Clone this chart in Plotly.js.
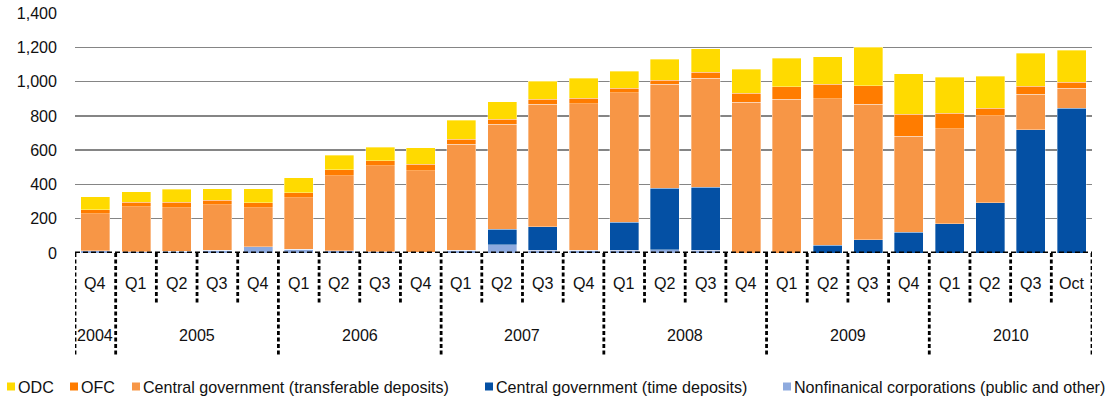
<!DOCTYPE html>
<html>
<head>
<meta charset="utf-8">
<script src="https://cdn.plot.ly/plotly-3.0.1.min.js"></script>
<style>html,body{margin:0;padding:0;background:#fff;}#chart{width:1113px;height:401px;}</style>
</head>
<body>
<div id="chart"></div>
<script>
// ---- data ----
var years    = ['2004','2005','2005','2005','2005','2006','2006','2006','2006','2007','2007','2007','2007','2008','2008','2008','2008','2009','2009','2009','2009','2010','2010','2010','2010'];
var quarters = ['Q4','Q1','Q2','Q3','Q4','Q1','Q2','Q3','Q4','Q1','Q2','Q3','Q4','Q1','Q2','Q3','Q4','Q1','Q2','Q3','Q4','Q1','Q2','Q3','Oct'];

var nfc     = [12, 7, 9, 17, 37, 21, 12, 6, 5, 16, 47, 17, 17, 15, 19, 17, 0, 0, 0, 0, 0, 0, 0, 0, 0];
var cgTime  = [0, 0, 0, 0, 0, 0, 0, 0, 0, 0, 93, 135, 0, 164, 359, 367, 0, 0, 45, 76, 121, 171, 292, 718, 845];
var cgTrans = [218, 264, 256, 265, 228, 302, 440, 504, 476, 617, 610, 716, 855, 757, 605, 634, 878, 896, 856, 792, 560, 555, 510, 207, 115];
var ofc     = [23, 25, 31, 26, 29, 29, 35, 29, 37, 31, 31, 30, 31, 26, 26, 37, 55, 74, 82, 109, 127, 88, 41, 47, 37];
var odc     = [76, 60, 76, 68, 82, 86, 82, 78, 97, 109, 101, 105, 117, 97, 120, 137, 138, 165, 162, 224, 238, 212, 187, 192, 185];

var seriesNames = ['Nonfinanical corporations (public and other)', 'Central government (time deposits)', 'Central government (transferable deposits)', 'OFC', 'ODC'];
var seriesData  = [nfc, cgTime, cgTrans, ofc, odc];
var seriesColors = ['#8EAADE', '#0450A4', '#F79646', '#FF7C00', '#FFDA00'];
var legendOrder = [4, 3, 2, 1, 0];

// ---- layout geometry ----
var W = 1113, H = 401, L = 75, R = 21, T = 13, B = 148;
var PW = W - L - R, PH = H - T - B;
function px(x){ return (x - L) / PW; }
function py(y){ return (H - B - y) / PH; }
var legendX = [7, 70, 132, 485, 783];
var FONT = 'Liberation Sans, Arial, sans-serif';
var FS = 16.1;

var xcats = years.map(function(y, i){ return y + ' ' + quarters[i]; });

var traces = seriesData.map(function(vals, k){
  return {
    type: 'bar', x: xcats, y: vals, name: seriesNames[k],
    marker: {color: seriesColors[k], line: {color: 'rgba(255,255,255,0.5)', width: 0.7}},
    hoverinfo: 'x+y+name'
  };
});

var shapes = [];
var annotations = [];

// baseline dashed
shapes.push({type: 'line', xref: 'x', yref: 'y', x0: -0.5, x1: xcats.length - 0.5, y0: 0, y1: 0,
  line: {color: '#000', width: 2.8, dash: '5px,3px'}});

// separators
for (var i = 0; i <= xcats.length; i++) {
  var isYear = (i === 0 || i === xcats.length || years[i] !== years[i-1]);
  shapes.push({type: 'line', xref: 'x', yref: 'paper', x0: i - 0.5, x1: i - 0.5,
    y0: 0, y1: py(isYear ? 356 : 303), line: {color: '#000', width: 2.8, dash: '4px,2.5px'}});
}

// quarter labels
for (var j = 0; j < xcats.length; j++) {
  annotations.push({xref: 'x', yref: 'paper', x: j, y: py(283), text: quarters[j], showarrow: false,
    xanchor: 'center', yanchor: 'middle', font: {family: FONT, size: FS, color: '#111'}});
}
// year labels
var start = 0;
for (var k = 1; k <= years.length; k++) {
  if (k === years.length || years[k] !== years[start]) {
    annotations.push({xref: 'x', yref: 'paper', x: (start + k - 1) / 2, y: py(335), text: years[start], showarrow: false,
      xanchor: 'center', yanchor: 'middle', font: {family: FONT, size: FS, color: '#111'}});
    start = k;
  }
}
// legend
legendOrder.forEach(function(s, n){
  var lx = legendX[n];
  shapes.push({type: 'rect', xref: 'paper', yref: 'paper', x0: px(lx), x1: px(lx + 8), y0: py(390.5), y1: py(382.5),
    fillcolor: seriesColors[s], line: {width: 0}});
  annotations.push({xref: 'paper', yref: 'paper', x: px(lx + 9), y: py(386.5), text: seriesNames[s], showarrow: false,
    xanchor: 'left', yanchor: 'middle', font: {family: FONT, size: FS, color: '#111'}});
});

var layout = {
  width: W, height: H,
  margin: {l: L, r: R, t: T, b: B, pad: 0},
  barmode: 'stack', bargap: 0.287,
  showlegend: false,
  paper_bgcolor: '#fff', plot_bgcolor: '#fff',
  font: {family: FONT, size: FS, color: '#111'},
  xaxis: {type: 'category', showticklabels: false, ticks: '', showgrid: false, showline: false, zeroline: false, range: [-0.5, xcats.length - 0.5]},
  yaxis: {range: [0, 1400], dtick: 200, tickformat: ',', showgrid: true, gridcolor: '#858585', gridwidth: 1.5,
    zeroline: true, zerolinecolor: '#fff', zerolinewidth: 2, showline: false, ticks: '', ticklabelstandoff: 17,
    tickfont: {family: FONT, size: FS, color: '#111'}},
  shapes: shapes,
  annotations: annotations
};

Plotly.newPlot('chart', traces, layout, {displayModeBar: false, staticPlot: true});
</script>
</body>
</html>
